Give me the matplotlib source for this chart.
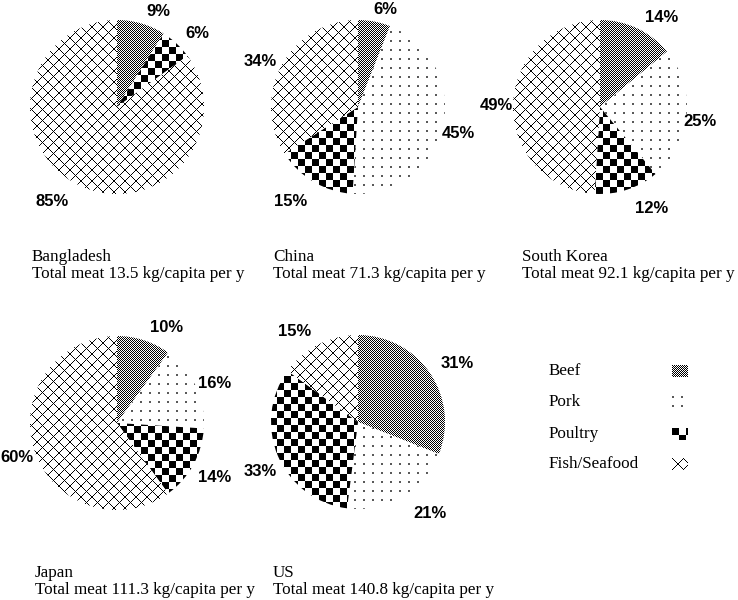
import numpy as np
import matplotlib
matplotlib.use('Agg')
import matplotlib.pyplot as plt

# Meat consumption shares (%) by country
countries = ['Bangladesh', 'China', 'South Korea', 'Japan', 'US']
totals = [13.5, 71.3, 92.1, 111.3, 140.8]
beef = [9, 6, 14, 10, 31]
pork = [0, 45, 25, 16, 21]
poultry = [6, 15, 12, 14, 33]
fish = [85, 34, 49, 60, 15]
meat_types = ['Beef', 'Pork', 'Poultry', 'Fish/Seafood']

W, H = 738, 600
fig = plt.figure(figsize=(W / 100, H / 100), dpi=100)

# layout in pixels: pie centre, caption left x
centres = [(117, 107), (358, 107), (600, 107), (117, 423), (358, 422)]
cap_x = [32, 273, 522, 35, 273]
# percentage label offsets from the pie centre (px, y downwards), per slice
label_off = [
    [(41, -95), None, (80, -74), (-65, 95)],
    [(27, -97), (100, 26), (-67, 95), (-98, -46)],
    [(62, -90), (100, 15), (52, 102), (-104, -1)],
    [(50, -95), (98, -40), (98, 55), (-100, 35)],
    [(99, -59), (72, 91), (-98, 49), (-63, -91)],
]
R = 87
HALF = 130


def px_axes(x0, y0, w, h):
    return fig.add_axes([x0 / W, 1 - (y0 + h) / H, w / W, h / H])


def pattern(kind, h, w):
    i, j = np.mgrid[0:h, 0:w]
    img = np.ones((h, w))
    if kind == 'Beef':
        img[(i + j) % 2 == 0] = 0.0
    elif kind == 'Pork':
        img[(i % 9 < 2) & (j % 9 < 2)] = 0.35
    elif kind == 'Poultry':
        img[((i // 7) + (j // 7)) % 2 == 0] = 0.0
    else:
        img[((i + j) % 11 == 0) | ((i - j) % 11 == 0)] = 0.0
    return img


lim = HALF / R
for k, name in enumerate(countries):
    cx, cy = centres[k]
    ax = px_axes(cx - HALF, cy - HALF, 2 * HALF, 2 * HALF)
    vals = [beef[k], pork[k], poultry[k], fish[k]]
    wedges, texts = ax.pie(vals, startangle=90, counterclock=False, radius=1,
                           wedgeprops=dict(facecolor='none', linewidth=0))
    for wdg, kind in zip(wedges, meat_types):
        im = ax.imshow(pattern(kind, 2 * HALF, 2 * HALF), cmap='gray', vmin=0, vmax=1,
                       extent=(-lim, lim, -lim, lim), interpolation='nearest', zorder=0)
        im.set_clip_path(wdg)
    for v, off in zip(vals, label_off[k]):
        if v > 0:
            ax.text(off[0] / R, -off[1] / R, f'{v}%', ha='center', va='center',
                    family='Liberation Sans', weight='bold', fontsize=12)
    ax.set_xlim(-lim, lim)
    ax.set_ylim(-lim, lim)
    ax.set_aspect('equal')
    ax.axis('off')

    base = 261 if k < 3 else 577
    fig.text(cap_x[k] / W, 1 - base / H, name, family='Liberation Serif',
             fontsize=12.3, va='baseline')
    fig.text(cap_x[k] / W, 1 - (base + 17) / H,
             f'Total meat {totals[k]} kg/capita per y', family='Liberation Serif',
             fontsize=12.3, va='baseline')

# legend
leg_y = [371, 402, 434, 464]
for kind, y in zip(meat_types, leg_y):
    fig.text(549 / W, 1 - y / H, kind, family='Liberation Serif', fontsize=12.3, va='center')
    lax = px_axes(672, y - 6, 16, 12)
    lax.imshow(pattern(kind, 12, 16), cmap='gray', vmin=0, vmax=1,
               interpolation='nearest', aspect='auto')
    lax.axis('off')

fig.savefig('out.png', dpi=100)
